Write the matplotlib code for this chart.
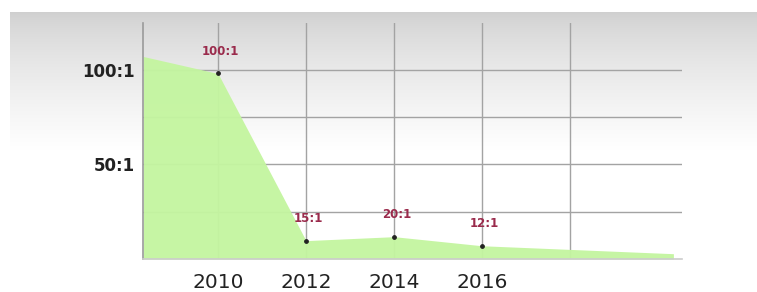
import numpy as np
import matplotlib
matplotlib.use("Agg")
import matplotlib.pyplot as plt

# data
years = [2008.3, 2010, 2012, 2014, 2016, 2020.35]
ratio = [107, 98, 9.7, 11.8, 7.0, 2.8]
point_years = [2010, 2012, 2014, 2016]
point_vals = [98, 9.7, 11.8, 7.0]
point_labels = ["100:1", "15:1", "20:1", "12:1"]
xtick_pos = [2010, 2012, 2014, 2016, 2018]
xtick_labels = ["2010", "2012", "2014", "2016", ""]
ytick_pos = [25, 50, 75, 100]
ytick_labels = ["", "50:1", "", "100:1"]

W, H = 757, 292
fig = plt.figure(figsize=(W / 100, H / 100), dpi=100)
fig.patch.set_facecolor("white")

# gray-to-white backdrop at the top
bg = fig.add_axes([0, 0, 1, 1], zorder=-1)
bg.set_xlim(0, W)
bg.set_ylim(H, 0)
bg.axis("off")
grad = np.linspace(0, 1, 256)[:, None]
shade = 0.81 + 0.19 * grad ** 0.7
img = np.dstack([shade, shade, shade])
bg.imshow(img, extent=[10, W, 150, 12], aspect="auto")

# main chart area
x0, x1 = 143, 682
ytop, ybot = 23, 259
ax = fig.add_axes([x0 / W, (H - ybot) / H, (x1 - x0) / W, (ybot - ytop) / H])
ax.patch.set_alpha(0)
ax.set_xlim(2010 - 75 / 44, 2010 + (x1 - 218) / 44)
ax.set_ylim(0, (ybot - ytop) / 1.893)

ax.fill_between(years, ratio, 0, color="#c4f5a0", alpha=0.96, lw=0, zorder=2)

ax.set_xticks(xtick_pos)
ax.set_xticklabels(xtick_labels, fontsize=14.5, color="#222222")
ax.set_yticks(ytick_pos)
ax.set_yticklabels(ytick_labels, fontsize=12, fontweight="bold", color="#222222")
ax.tick_params(axis="x", length=0, pad=10)
ax.tick_params(axis="y", length=0, pad=6)
ax.grid(True, color="#a3a3a3", lw=1.0, zorder=1)
ax.set_axisbelow(True)

for s in ["top", "right"]:
    ax.spines[s].set_visible(False)
ax.spines["left"].set_color("#9a9a9a")
ax.spines["left"].set_linewidth(1.2)
ax.spines["bottom"].set_color("#cccccc")
ax.spines["bottom"].set_linewidth(1.2)

ax.scatter(point_years, point_vals, s=6, color="#222222", zorder=4)
for xv, yv, lab in zip(point_years, point_vals, point_labels):
    ax.annotate(lab, (xv, yv), xytext=(2, 16), textcoords="offset points",
                ha="center", va="center", fontsize=8.5, fontweight="bold",
                color="#9a2b4c", zorder=5)

fig.savefig("out.png", dpi=100)
